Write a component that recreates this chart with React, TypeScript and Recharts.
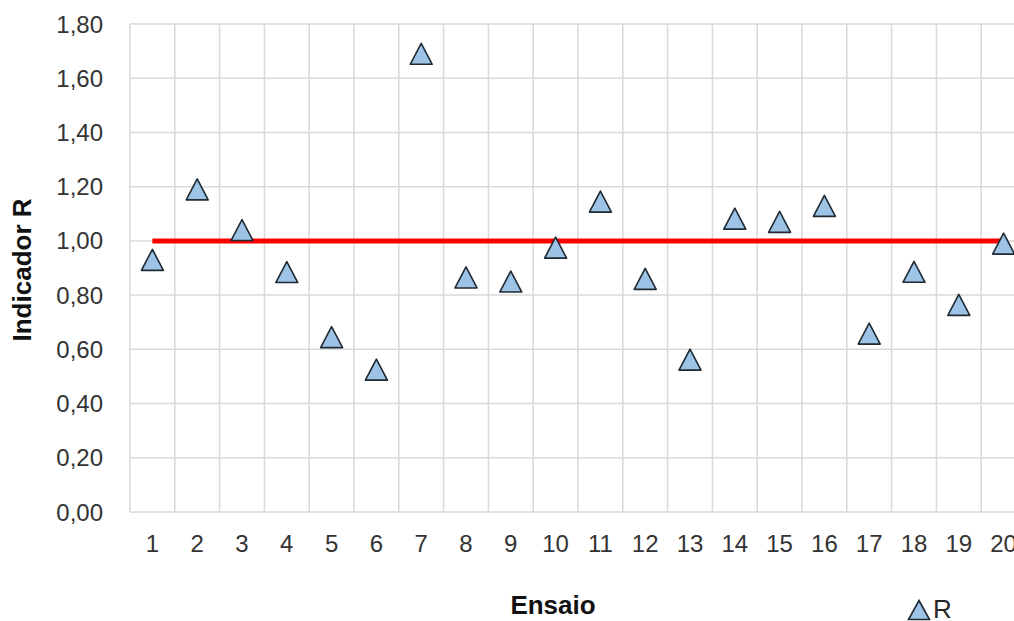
import React from "react";
import {
  ComposedChart,
  Line,
  Scatter,
  XAxis,
  YAxis,
  CartesianGrid,
  Legend,
} from "recharts";

const ensaios = [1, 2, 3, 4, 5, 6, 7, 8, 9, 10, 11, 12, 13, 14, 15, 16, 17, 18, 19, 20];
const rValues = [
  0.93, 1.19, 1.04, 0.885, 0.645, 0.525, 1.69, 0.865, 0.85, 0.975,
  1.145, 0.86, 0.562, 1.082, 1.07, 1.129, 0.658, 0.886, 0.764, 0.99,
];
const limite = [1, 1, 1, 1, 1, 1, 1, 1, 1, 1, 1, 1, 1, 1, 1, 1, 1, 1, 1, 1];
const yTicks = [0, 0.2, 0.4, 0.6, 0.8, 1.0, 1.2, 1.4, 1.6, 1.8];
const xDomain: [number, number] = [0.5, 20.5];
// category boundaries, where the vertical grid lines sit
const gridTicks = [
  0.5, 1.5, 2.5, 3.5, 4.5, 5.5, 6.5, 7.5, 8.5, 9.5, 10.5,
  11.5, 12.5, 13.5, 14.5, 15.5, 16.5, 17.5, 18.5, 19.5, 20.5,
];

const data = ensaios.map((e, i) => ({ ensaio: e, r: rValues[i], lim: limite[i] }));

const FONT = "'Liberation Sans', Arial, sans-serif";
const TRI_FILL = "#9dc3e6";
const TRI_STROKE = "#1f2a33";

function formatComma(v: number): string {
  return v.toFixed(2).replace(".", ",");
}

function Triangle(props: any) {
  const { cx, cy } = props;
  if (cx == null || cy == null) return null;
  const pts = `${cx},${cy - 10.5} ${cx + 11},${cy + 10.5} ${cx - 11},${cy + 10.5}`;
  return <polygon points={pts} fill={TRI_FILL} stroke={TRI_STROKE} strokeWidth={1.6} strokeLinejoin="round" />;
}

function LegendContent() {
  return (
    <div style={{ display: "flex", alignItems: "center", fontFamily: FONT, fontSize: 26, color: "#262626" }}>
      <svg width={24} height={22}>
        <polygon points="12,1.5 22.5,20.5 1.5,20.5" fill={TRI_FILL} stroke={TRI_STROKE} strokeWidth={1.6} />
      </svg>
      <span style={{ marginLeft: 2 }}>R</span>
    </div>
  );
}

// same linear mapping as the x axis (domain 0.5..20.5 over the plot width)
function verticalLines({ xAxis, offset }: any): number[] {
  if (xAxis && typeof xAxis.scale === "function") {
    return gridTicks.map((t) => xAxis.scale(t));
  }
  const left = offset?.left ?? 130;
  const width = offset?.width ?? 896;
  return gridTicks.map((t) => left + ((t - xDomain[0]) / (xDomain[1] - xDomain[0])) * width);
}

export default function App() {
  return (
    <div
      style={{
        position: "fixed",
        top: 0,
        left: 0,
        width: 1014,
        height: 621,
        overflow: "hidden",
        background: "#fff",
      }}
    >
      <ComposedChart
        width={1040}
        height={621}
        data={data}
        margin={{ top: 24, right: 14, left: 0, bottom: 0 }}
      >
        <CartesianGrid
          stroke="#d9d9d9"
          strokeWidth={1.5}
          verticalCoordinatesGenerator={verticalLines}
        />
        <XAxis
          dataKey="ensaio"
          type="number"
          domain={xDomain}
          ticks={ensaios}
          interval={0}
          height={109}
          axisLine={false}
          tickLine={false}
          tickSize={0}
          tickMargin={23}
          tick={{ fill: "#333", fontSize: 24, fontFamily: FONT }}
          label={{
            value: "Ensaio",
            position: "center",
            dx: -25,
            dy: 38,
            style: { fill: "#111", fontSize: 26, fontWeight: "bold", fontFamily: FONT },
          }}
        />
        <YAxis
          domain={[0, 1.8]}
          ticks={yTicks}
          width={130}
          axisLine={false}
          tickLine={false}
          tickSize={0}
          tickMargin={27}
          tickFormatter={formatComma}
          tick={{ fill: "#333", fontSize: 24, fontFamily: FONT }}
          label={{
            value: "Indicador R",
            angle: -90,
            position: "center",
            dx: -43,
            dy: 2,
            style: { fill: "#111", fontSize: 26, fontWeight: "bold", fontFamily: FONT },
          }}
        />
        <Legend
          layout="horizontal"
          verticalAlign="middle"
          align="center"
          content={<LegendContent />}
          wrapperStyle={{ left: 907, top: 594, width: 80 }}
        />
        <Line
          dataKey="lim"
          name="Limite"
          stroke="#ff0000"
          strokeWidth={5}
          dot={false}
          activeDot={false}
          legendType="none"
          isAnimationActive={false}
        />
        <Scatter dataKey="r" name="R" shape={<Triangle />} isAnimationActive={false} />
      </ComposedChart>
    </div>
  );
}
